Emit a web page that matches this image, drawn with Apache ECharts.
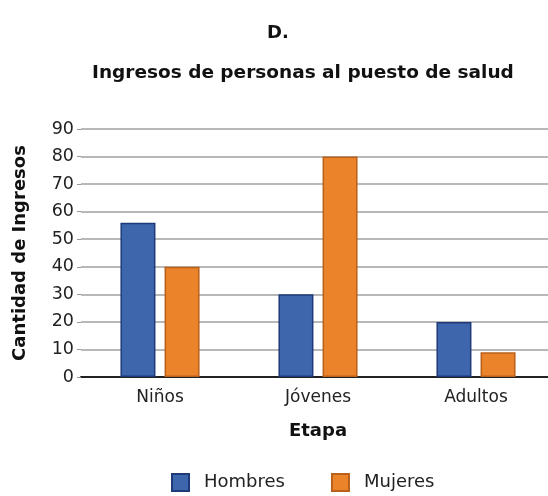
<!DOCTYPE html>
<html>
<head>
<meta charset="utf-8">
<script src="https://cdn.jsdelivr.net/npm/echarts@6/dist/echarts.min.js"></script>
<style>
  html, body { margin: 0; padding: 0; background: #fff; }
  #chart { width: 548px; height: 496px; }
</style>
</head>
<body>
<div id="chart"></div>
<script>
const categories = ['Niños', 'Jóvenes', 'Adultos']
const hombres = [56, 30, 20]
const mujeres = [40, 80, 9]
const yTicks = { min: 0, max: 90, interval: 10 }

const font = 'DejaVu Sans'
const chart = echarts.init(document.getElementById('chart'))
const option = {
  animation: false,
  backgroundColor: '#fff',
  title: [
    {
      text: 'D.',
      left: 262,
      top: 19,
      textStyle: { fontFamily: font, fontSize: 18, fontWeight: 'bold', color: '#111' }
    },
    {
      text: 'Ingresos de personas al puesto de salud',
      left: 87,
      top: 59,
      textStyle: { fontFamily: font, fontSize: 18.5, fontWeight: 'bold', color: '#111' }
    }
  ],
  legend: {
    bottom: -1,
    left: 166,
    itemWidth: 17,
    itemHeight: 17,
    itemGap: 46,
    icon: 'rect',
    textStyle: { fontFamily: font, fontSize: 18, color: '#222', padding: [0, 0, 0, 10] },
    data: ['Hombres', 'Mujeres']
  },
  grid: { left: 81, width: 474, top: 129, bottom: 119, outerBoundsMode: 'none' },
  xAxis: {
    type: 'category',
    data: categories,
    name: 'Etapa',
    nameLocation: 'middle',
    nameGap: 45,
    nameTextStyle: { fontFamily: font, fontSize: 18, fontWeight: 'bold', color: '#111' },
    axisLine: { lineStyle: { color: '#222', width: 2 } },
    axisTick: { show: false },
    axisLabel: { fontFamily: font, fontSize: 17, color: '#222', margin: 12 }
  },
  yAxis: {
    type: 'value',
    min: yTicks.min,
    max: yTicks.max,
    interval: yTicks.interval,
    name: 'Cantidad de Ingresos',
    nameLocation: 'middle',
    nameGap: 52,
    nameTextStyle: { fontFamily: font, fontSize: 18, fontWeight: 'bold', color: '#111' },
    axisLine: { show: false },
    axisTick: { show: true, length: 4, lineStyle: { color: '#999' } },
    axisLabel: { fontFamily: font, fontSize: 17.5, color: '#222', margin: 7 },
    splitLine: { lineStyle: { color: '#b8b8b8', width: 2 } }
  },
  series: [
    {
      name: 'Hombres',
      type: 'bar',
      data: hombres,
      barWidth: 35,
      barGap: '26%',
      itemStyle: { color: '#3d66ad', borderColor: '#1e3a78', borderWidth: 1.5 }
    },
    {
      name: 'Mujeres',
      type: 'bar',
      data: mujeres,
      barWidth: 35,
      itemStyle: { color: '#ea8329', borderColor: '#b9601a', borderWidth: 1.5 }
    }
  ]
}
chart.setOption(option)
</script>
</body>
</html>
